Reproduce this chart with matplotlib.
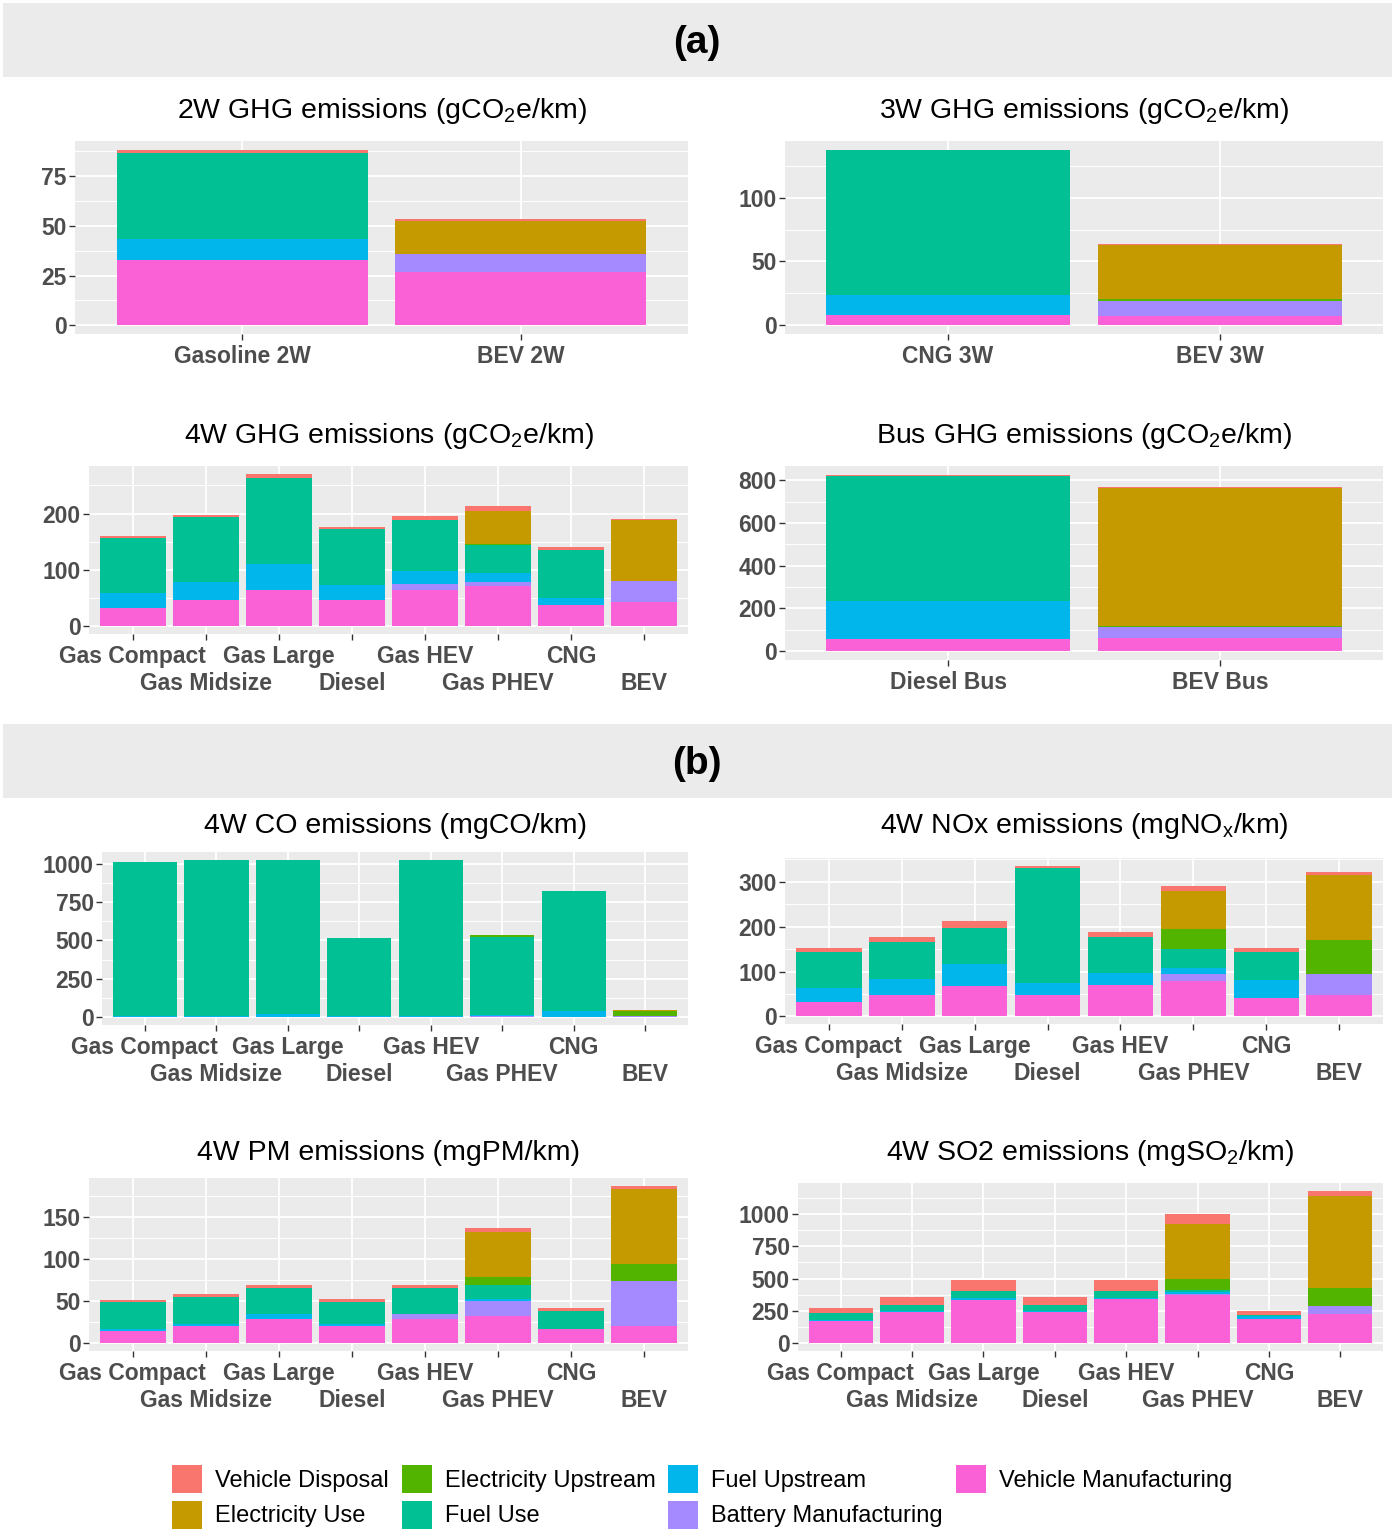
import numpy as np
import matplotlib
matplotlib.use("Agg")
import matplotlib.pyplot as plt
from matplotlib.patches import Rectangle, Patch
from matplotlib.ticker import MultipleLocator, FixedLocator, FixedFormatter

plt.rcParams['font.family'] = ['Liberation Sans', 'DejaVu Sans']
plt.rcParams['mathtext.fontset'] = 'custom'
plt.rcParams['mathtext.rm'] = 'Liberation Sans'
plt.rcParams['mathtext.it'] = 'Liberation Sans:italic'
plt.rcParams['mathtext.bf'] = 'Liberation Sans:bold'

# ---------------- data ----------------
components = ["Vehicle Manufacturing", "Battery Manufacturing", "Fuel Upstream",
              "Fuel Use", "Electricity Upstream", "Electricity Use", "Vehicle Disposal"]
legend_order = ["Vehicle Disposal", "Electricity Use", "Electricity Upstream", "Fuel Use",
                "Fuel Upstream", "Battery Manufacturing", "Vehicle Manufacturing"]
colors = {"Vehicle Disposal": "#F8766D", "Electricity Use": "#C49A00",
          "Electricity Upstream": "#53B400", "Fuel Use": "#00C094",
          "Fuel Upstream": "#00B6EB", "Battery Manufacturing": "#A58AFF",
          "Vehicle Manufacturing": "#FB61D7"}

cats_2w = ["Gasoline 2W", "BEV 2W"]
cats_3w = ["CNG 3W", "BEV 3W"]
cats_bus = ["Diesel Bus", "BEV Bus"]
cats_4w = ["Gas Compact", "Gas Midsize", "Gas Large", "Diesel",
           "Gas HEV", "Gas PHEV", "CNG", "BEV"]

ghg_2w = {"Vehicle Manufacturing": [32.7, 26.7], "Battery Manufacturing": [0, 9.0],
          "Fuel Upstream": [10.6, 0], "Fuel Use": [43.4, 0],
          "Electricity Upstream": [0, 0.3], "Electricity Use": [0, 16.5],
          "Vehicle Disposal": [1.6, 1.0]}
ghg_3w = {"Vehicle Manufacturing": [8.3, 7.3], "Battery Manufacturing": [0, 11.7],
          "Fuel Upstream": [15.4, 0], "Fuel Use": [113.3, 0],
          "Electricity Upstream": [0, 1.3], "Electricity Use": [0, 42.5],
          "Vehicle Disposal": [0.5, 1.2]}
ghg_4w = {"Vehicle Manufacturing": [32.5, 46, 65, 46, 65, 71, 38, 44],
          "Battery Manufacturing": [0, 0, 0, 0, 11, 7, 0, 36],
          "Fuel Upstream": [26.5, 32, 46, 27, 23, 17, 13, 0],
          "Fuel Use": [98, 116, 152, 100, 89, 50, 84, 0],
          "Electricity Upstream": [0, 0, 0, 0, 0, 1, 0, 1],
          "Electricity Use": [0, 0, 0, 0, 0, 58, 0, 107],
          "Vehicle Disposal": [4, 4, 8, 4, 8, 10, 5, 3]}
ghg_bus = {"Vehicle Manufacturing": [58, 63], "Battery Manufacturing": [0, 50],
           "Fuel Upstream": [177, 0], "Fuel Use": [584, 0],
           "Electricity Upstream": [0, 6], "Electricity Use": [0, 642],
           "Vehicle Disposal": [6, 8]}
co_4w = {"Vehicle Manufacturing": [2, 2, 3, 2, 3, 3, 2, 3],
         "Battery Manufacturing": [0, 0, 0, 0, 1, 7, 0, 6],
         "Fuel Upstream": [5, 4, 17, 3, 4, 3, 35, 0],
         "Fuel Use": [1006, 1018, 1004, 510, 1016, 507, 783, 0],
         "Electricity Upstream": [0, 0, 0, 0, 0, 13, 0, 28],
         "Electricity Use": [0, 0, 0, 0, 0, 2, 0, 8],
         "Vehicle Disposal": [0, 0, 0, 0, 0, 0, 0, 1]}
nox_4w = {"Vehicle Manufacturing": [33, 47, 67, 47, 71, 78, 41, 47],
          "Battery Manufacturing": [0, 0, 0, 0, 0, 16, 0, 48],
          "Fuel Upstream": [31, 37, 50, 27, 26, 13, 40, 0],
          "Fuel Use": [80, 81, 81, 256, 81, 44, 63, 0],
          "Electricity Upstream": [0, 0, 0, 0, 0, 44, 0, 76],
          "Electricity Use": [0, 0, 0, 0, 0, 84, 0, 145],
          "Vehicle Disposal": [8, 11, 14, 6, 10, 12, 8, 6]}
pm_4w = {"Vehicle Manufacturing": [14.7, 20, 29, 20, 29, 32.5, 16.7, 20],
         "Battery Manufacturing": [0, 0, 0, 0, 5.5, 18, 0, 54],
         "Fuel Upstream": [2.3, 2.6, 5.5, 2.6, 0.5, 1.5, 0.5, 0],
         "Fuel Use": [32, 32.4, 30.5, 26.4, 30, 16.7, 21.3, 0],
         "Electricity Upstream": [0, 0, 0, 0, 0, 10.3, 0, 20],
         "Electricity Use": [0, 0, 0, 0, 0, 53, 0, 89],
         "Vehicle Disposal": [2, 3, 4, 3, 4, 5, 3.2, 4]}
so2_4w = {"Vehicle Manufacturing": [170, 240, 332, 240, 340, 373, 190, 227],
          "Battery Manufacturing": [0, 0, 0, 0, 5, 8, 0, 58],
          "Fuel Upstream": [13, 8, 20, 8, 7, 12, 24, 0],
          "Fuel Use": [55, 47, 53, 47, 53, 22, 5, 0],
          "Electricity Upstream": [0, 0, 0, 0, 0, 84, 0, 143],
          "Electricity Use": [0, 0, 0, 0, 0, 423, 0, 706],
          "Vehicle Disposal": [36, 65, 81, 65, 81, 73, 31, 45]}

# ---------------- figure ----------------
W, H = 1393, 1531
fig = plt.figure(figsize=(W / 100, H / 100), dpi=100)


def frect(l, t, r, b):
    return [l / W, 1 - b / H, (r - l) / W, (b - t) / H]


def panel(box, cats, data, major, title, base_y, dodge):
    ax = fig.add_axes(frect(*box))
    n = len(cats)
    x = np.arange(1, n + 1)
    bottom = np.zeros(n)
    for comp in components:
        vals = np.array(data[comp], dtype=float)
        ax.bar(x, vals, 0.9, bottom=bottom, color=colors[comp], linewidth=0, zorder=3)
        bottom = bottom + vals
    ymax = bottom.max()
    ax.set_ylim(-0.05 * ymax, 1.05 * ymax)
    ax.set_xlim(0.4, n + 0.6)
    ax.set_facecolor("#EBEBEB")
    for s in ax.spines.values():
        s.set_visible(False)
    ax.yaxis.set_major_locator(MultipleLocator(major))
    ax.yaxis.set_minor_locator(MultipleLocator(major / 2))
    ax.set_axisbelow(True)
    ax.grid(which="major", color="white", linewidth=1.3, zorder=0)
    ax.grid(which="minor", axis="y", color="white", linewidth=0.7, zorder=0)
    ax.tick_params(which="major", length=4, width=1.0, color="#333333",
                   labelcolor="#4D4D4D", labelsize=16.5, pad=2)
    ax.tick_params(axis="y", which="minor", length=0)
    if dodge:
        ax.xaxis.set_major_locator(FixedLocator(x[0::2]))
        ax.xaxis.set_major_formatter(FixedFormatter(cats[0::2]))
        ax.xaxis.set_minor_locator(FixedLocator(x[1::2]))
        ax.xaxis.set_minor_formatter(FixedFormatter(cats[1::2]))
        ax.grid(which="minor", axis="x", color="white", linewidth=1.3, zorder=0)
        ax.tick_params(axis="x", which="minor", length=4, width=1.0, color="#333333",
                       labelcolor="#4D4D4D", labelsize=16.5, pad=23.5)
        ax.tick_params(axis="x", which="major", pad=4)
    else:
        ax.set_xticks(x)
        ax.set_xticklabels(cats)
        ax.tick_params(axis="x", pad=4)
    for lab in (ax.get_xticklabels() + ax.get_yticklabels()
                + ax.xaxis.get_minorticklabels()):
        lab.set_fontweight("bold")
    cx = (box[0] + box[2]) / 2
    fig.text(cx / W, 1 - base_y / H, title, ha="center", va="baseline",
             fontsize=20.5, color="black")
    return ax


# strip headers
for (t, b, lab) in [(3, 77, "(a)"), (724, 798, "(b)")]:
    fig.patches.append(Rectangle((3 / W, 1 - b / H), (1392 - 3) / W, (b - t) / H,
                                 transform=fig.transFigure, facecolor="#EBEBEB",
                                 edgecolor="none", zorder=0))
    fig.text(697 / W, 1 - ((t + b) / 2 + 3) / H, lab, ha="center", va="center",
             fontsize=28, fontweight="bold", color="black")

panel((75, 141, 688, 334), cats_2w, ghg_2w, 25,
      r"2W GHG emissions (gCO$_\mathrm{2}$e/km)", 118, False)
panel((785, 141, 1383, 334), cats_3w, ghg_3w, 50,
      r"3W GHG emissions (gCO$_\mathrm{2}$e/km)", 118, False)
panel((89, 466, 688, 634), cats_4w, ghg_4w, 100,
      r"4W GHG emissions (gCO$_\mathrm{2}$e/km)", 443, True)
panel((785, 466, 1383, 660), cats_bus, ghg_bus, 200,
      r"Bus GHG emissions (gCO$_\mathrm{2}$e/km)", 443, False)
panel((102, 852, 688, 1025), cats_4w, co_4w, 250,
      "4W CO emissions (mgCO/km)", 833, True)
panel((785, 858, 1383, 1024), cats_4w, nox_4w, 100,
      r"4W NOx emissions (mgNO$_\mathrm{x}$/km)", 833, True)
panel((89, 1178, 688, 1351), cats_4w, pm_4w, 50,
      "4W PM emissions (mgPM/km)", 1160, True)
panel((798, 1183, 1383, 1351), cats_4w, so2_4w, 250,
      r"4W SO2 emissions (mgSO$_\mathrm{2}$/km)", 1160, True)

handles = [Patch(facecolor=colors[c], edgecolor="none", label=c) for c in legend_order]
fig.legend(handles=handles, ncol=4, loc="center", bbox_to_anchor=(702 / W, 1 - 1497 / H),
           frameon=False, fontsize=17, handlelength=1.27, handleheight=1.45,
           handletextpad=0.55, columnspacing=0.55, labelspacing=0.3, borderpad=0)

fig.savefig("out.png", dpi=100, facecolor="white")
